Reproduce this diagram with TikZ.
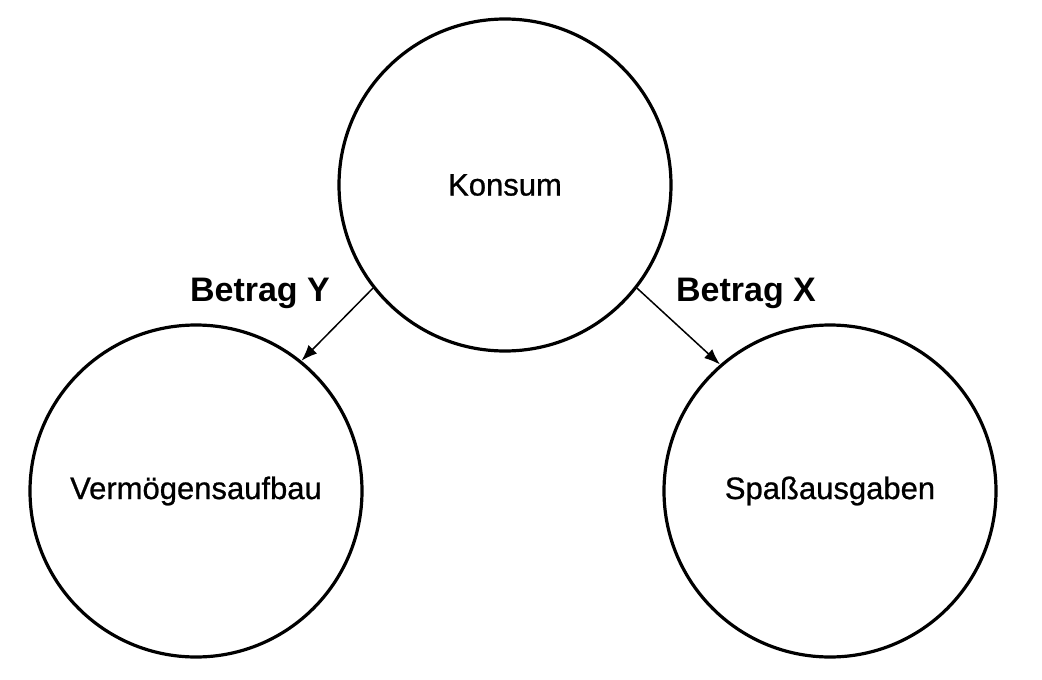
\documentclass[tikz,border=0pt]{standalone}
\usepackage{fontspec}
\setmainfont{Liberation Sans}
\newfontfamily\medfont[FakeBold=0.8]{Liberation Sans}
\usetikzlibrary{arrows.meta}
\begin{document}
\begin{tikzpicture}[x=1pt,y=-1pt,
  bubble/.style={circle,draw=black,line width=3.2pt,minimum size=332pt,inner sep=0pt,font=\medfont\fontsize{31}{36}\selectfont},
  flow/.style={line width=1.5pt,-{Latex[length=16pt,width=12pt]}},
  amount/.style={font=\bfseries\fontsize{34}{40}\selectfont}]
\useasboundingbox (0,0) rectangle (1042,680);
\fill[white] (0,0) rectangle (1042,680);
\node[bubble] (k) at (505,185) {Konsum};
\node[bubble] (v) at (196,491) {Vermögensaufbau};
\node[bubble] (s) at (830,491) {Spaßausgaben};
\draw[flow] (k.218) -- (v.51);
\draw[flow] (k.322) -- (s.131);
\node[amount] (ly) at (260,293) {Betrag Y};
\node[amount] (lx) at (746,293) {Betrag X};
\end{tikzpicture}
\end{document}
